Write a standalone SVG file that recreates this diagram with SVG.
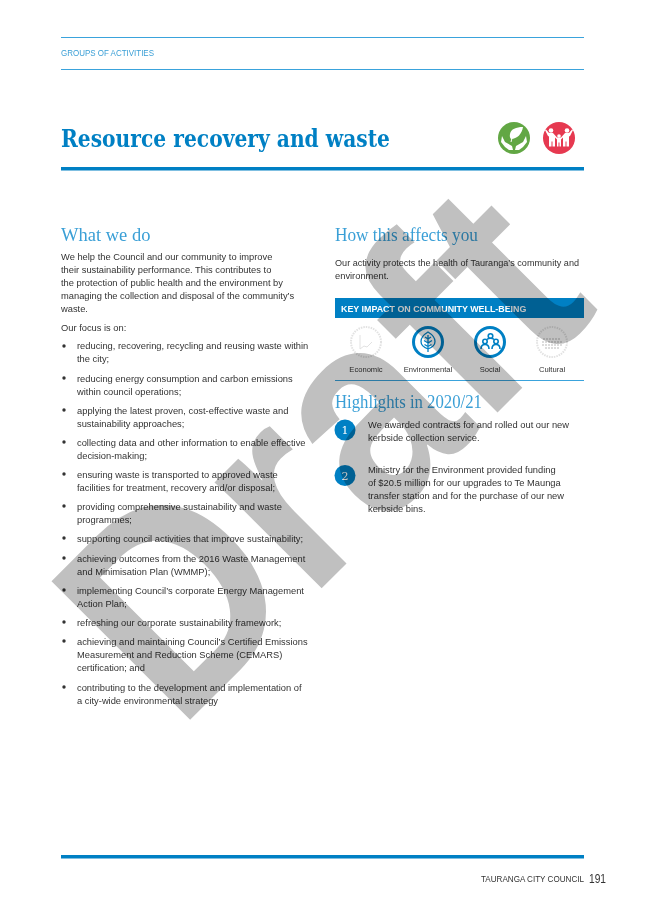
<svg xmlns="http://www.w3.org/2000/svg" width="645" height="912" viewBox="0 0 645 912">
<style>
text{font-family:"Liberation Sans",Arial,sans-serif}
.b{font-size:9.33px;fill:#333}
.h{font-family:"Liberation Serif",serif;font-size:18.5px;fill:#3a9fd6;font-weight:400}
.l{font-size:7.6px;fill:#333;text-anchor:middle}
.blue{fill:#0080c4}
.rule{stroke:#3aa3dc;stroke-width:1}
.ring{fill:#fff;stroke:#0080c4;stroke-width:3}
.faint{fill:#fff;stroke:#e2e2e2;stroke-width:2;stroke-dasharray:1.5 1}
.ic{fill:none;stroke:#0080c4;stroke-width:1.3}
.dot{fill:#333}
.wm{font-size:285px;font-weight:700;fill:#c0c0c0;mix-blend-mode:multiply}
</style>
<rect width="645" height="912" fill="#fff"/>
<g id="header">
<line class="rule" x1="61" y1="37.5" x2="584" y2="37.5"/>
<text x="61" y="56" font-size="9" fill="#3a9fd6" textLength="93" lengthAdjust="spacingAndGlyphs">GROUPS OF ACTIVITIES</text>
<line class="rule" x1="61" y1="69.5" x2="584" y2="69.5"/>
<text x="61" y="147" style="font-family:'DejaVu Serif',serif;font-weight:700;font-size:25px" class="blue" textLength="329" lengthAdjust="spacingAndGlyphs">Resource recovery and waste</text>
<rect x="61" y="167" width="523" height="3.5" class="blue"/>
</g>
<g id="icon-environment">
<circle cx="514" cy="138" r="16" fill="#62a744"/>
<path d="M523 127c-7 0-12 2-13 7-.5 2 0 4 1 5 6 0 11-5 12-12z" fill="#fff"/>
<path d="M512 138l-1 4" stroke="#fff" stroke-width="1" fill="none"/>
<path d="M502 136l3 6 7 4 1 4h-4l-4-3-4-5zM526 136l-3 6-7 4-1 4h4l4-3 4-5z" fill="#fff"/>
</g>
<g id="icon-community">
<circle cx="559" cy="138" r="16" fill="#e63950"/>
<g fill="#fff">
<circle cx="551" cy="130.500" r="2.300"/><circle cx="567" cy="130.500" r="2.300"/><circle cx="559" cy="136" r="1.800"/>
<path d="M545 130l1-.5 3 3.500h4l4 4.500h4l4-4.500h4l3-3.500 1 .5-3 6-1 .5v10h-2.500v-5h-1v5h-2.500v-9l-2 2v7h-1.500v-4h-1v4h-1.500v-7l-2-2v9h-2.500v-5h-1v5h-2.500v-10l-1-.5z"/>
</g>
</g>
<g id="what-we-do">
<text class="h" x="61" y="241">What we do</text>
<text class="b" x="61" y="259.500">We help the Council and our community to improve</text>
<text class="b" x="61" y="272.500">their sustainability performance. This contributes to</text>
<text class="b" x="61" y="285.500">the protection of public health and the environment by</text>
<text class="b" x="61" y="298.500">managing the collection and disposal of the community’s</text>
<text class="b" x="61" y="311.500">waste.</text>
<text class="b" x="61" y="330.500">Our focus is on:</text>
</g>
<g id="focus-list">
<circle class="dot" cx="64" cy="346" r="1.7"/>
<text class="b" x="77" y="349">reducing, recovering, recycling and reusing waste within</text>
<text class="b" x="77" y="362">the city;</text>
<circle class="dot" cx="64" cy="378" r="1.7"/>
<text class="b" x="77" y="382">reducing energy consumption and carbon emissions</text>
<text class="b" x="77" y="394.500">within council operations;</text>
<circle class="dot" cx="64" cy="410" r="1.7"/>
<text class="b" x="77" y="414">applying the latest proven, cost-effective waste and</text>
<text class="b" x="77" y="427">sustainability approaches;</text>
<circle class="dot" cx="64" cy="442" r="1.7"/>
<text class="b" x="77" y="446">collecting data and other information to enable effective</text>
<text class="b" x="77" y="459">decision-making;</text>
<circle class="dot" cx="64" cy="474" r="1.7"/>
<text class="b" x="77" y="478">ensuring waste is transported to approved waste</text>
<text class="b" x="77" y="491">facilities for treatment, recovery and/or disposal;</text>
<circle class="dot" cx="64" cy="506" r="1.7"/>
<text class="b" x="77" y="510">providing comprehensive sustainability and waste</text>
<text class="b" x="77" y="523">programmes;</text>
<circle class="dot" cx="64" cy="538" r="1.7"/>
<text class="b" x="77" y="542">supporting council activities that improve sustainability;</text>
<circle class="dot" cx="64" cy="558" r="1.7"/>
<text class="b" x="77" y="562">achieving outcomes from the 2016 Waste Management</text>
<text class="b" x="77" y="575">and Minimisation Plan (WMMP);</text>
<circle class="dot" cx="64" cy="590" r="1.7"/>
<text class="b" x="77" y="594">implementing Council’s corporate Energy Management</text>
<text class="b" x="77" y="607">Action Plan;</text>
<circle class="dot" cx="64" cy="622" r="1.7"/>
<text class="b" x="77" y="626">refreshing our corporate sustainability framework;</text>
<circle class="dot" cx="64" cy="641" r="1.7"/>
<text class="b" x="77" y="645">achieving and maintaining Council’s Certified Emissions</text>
<text class="b" x="77" y="658">Measurement and Reduction Scheme (CEMARS)</text>
<text class="b" x="77" y="671">certification; and</text>
<circle class="dot" cx="64" cy="687" r="1.7"/>
<text class="b" x="77" y="691">contributing to the development and implementation of</text>
<text class="b" x="77" y="704">a city-wide environmental strategy</text>
</g>
<g id="how-this-affects-you">
<text class="h" x="335" y="241" textLength="143" lengthAdjust="spacingAndGlyphs">How this affects you</text>
<text class="b" x="335" y="266" textLength="244" lengthAdjust="spacingAndGlyphs">Our activity protects the health of Tauranga’s community and</text>
<text class="b" x="335" y="279">environment.</text>
</g>
<g id="key-impact">
<rect x="335" y="298" width="249" height="20" class="blue"/>
<text x="341" y="311.500" font-size="8.900" font-weight="700" fill="#fff">KEY IMPACT ON COMMUNITY WELL-BEING</text>
</g>
<g id="well-being-economic">
<circle class="faint" cx="366" cy="342" r="15"/>
<path d="M360 335v14M360 349l4-3 3 1 5-5" fill="none" stroke="#e2e2e2" stroke-width="1"/>
<text class="l" x="366" y="371.500">Economic</text>
</g>
<g id="well-being-environmental">
<circle class="ring" cx="428" cy="342" r="14.500"/>
<path class="ic" d="M428 332c-5 3-7 6-7 9.500 0 3 3 6 7 7.500 4-1.500 7-4.500 7-7.500 0-3.500-2-6.500-7-9.500zM428 335v17M428 339l-3-2M428 339l3-2M428 343l-4-2.500M428 343l4-2.500M428 346.500l-3.500-2M428 346.500l3.500-2"/>
<text class="l" x="428" y="371.500">Environmental</text>
</g>
<g id="well-being-social">
<circle class="ring" cx="490" cy="342" r="14.500"/>
<g class="ic" style="stroke-width:1.600"><circle cx="490.500" cy="336" r="2.300"/><circle cx="485" cy="341.500" r="2.200"/><circle cx="496" cy="341.500" r="2.200"/><path d="M481 349c0-3 1.500-4.500 4-4.500s4 1.500 4 4.500M492 349c0-3 1.500-4.500 4-4.500s4 1.500 4 4.500M487 339.500c1-1 2-1.200 3.500-1.200s2.500.2 3.500 1.200"/></g>
<text class="l" x="490" y="371.500">Social</text>
</g>
<g id="well-being-cultural">
<circle class="faint" cx="552" cy="342" r="15"/>
<path d="M543 339h18M542 342h20M542 345h20M545 348h14" fill="none" stroke="#dcdcdc" stroke-width="1.800" stroke-dasharray="2 1"/>
<text class="l" x="552" y="371.500">Cultural</text>
</g>
<line class="rule" x1="335" y1="380.500" x2="584" y2="380.500"/>
<g id="highlights">
<text class="h" x="335" y="408" textLength="147" lengthAdjust="spacingAndGlyphs">Highlights in 2020/21</text>
</g>
<g id="highlight-1">
<circle class="blue" cx="345" cy="430" r="10.500"/>
<text x="345" y="434" font-size="11" fill="#fff" text-anchor="middle" style="font-family:'DejaVu Serif',serif">1</text>
<text class="b" x="368" y="428">We awarded contracts for and rolled out our new</text>
<text class="b" x="368" y="441">kerbside collection service.</text>
</g>
<g id="highlight-2">
<circle class="blue" cx="345" cy="475.500" r="10.500"/>
<text x="345" y="479.500" font-size="11" fill="#fff" text-anchor="middle" style="font-family:'DejaVu Serif',serif">2</text>
<text class="b" x="368" y="473">Ministry for the Environment provided funding</text>
<text class="b" x="368" y="486">of $20.5 million for our upgrades to Te Maunga</text>
<text class="b" x="368" y="499">transfer station and for the purchase of our new</text>
<text class="b" x="368" y="512">kerbside bins.</text>
</g>
<g id="footer">
<rect x="61" y="855" width="523" height="3.500" class="blue"/>
<text x="481" y="882" font-size="8.800" fill="#333" textLength="103" lengthAdjust="spacingAndGlyphs">TAURANGA CITY COUNCIL</text>
<text x="589" y="883" font-size="12" fill="#333" textLength="17" lengthAdjust="spacingAndGlyphs">191</text>
</g>
<text class="wm" transform="translate(178 732) rotate(-45) scale(.9 1)">Draft</text>
</svg>
